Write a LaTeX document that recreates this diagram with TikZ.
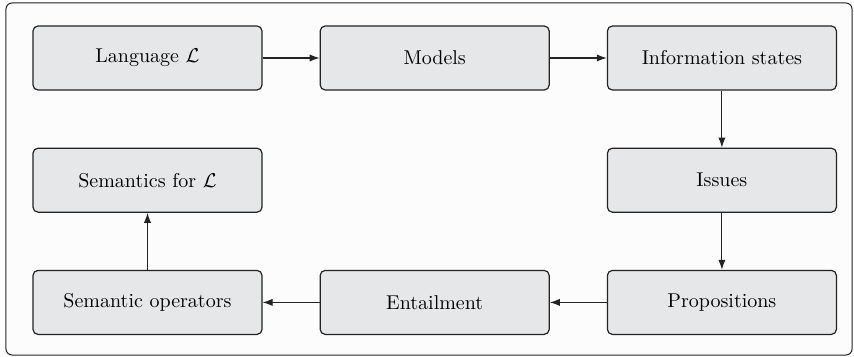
\documentclass[tikz,border=0pt]{standalone}
\usepackage{tikz}
\usetikzlibrary{shapes,arrows.meta,positioning,backgrounds}
\definecolor{boxgray}{RGB}{230,231,232}
\definecolor{framegray}{RGB}{252,252,252}
\definecolor{linegray}{RGB}{35,35,35}

\begin{document}
\begin{tikzpicture}[
    node distance=28.5pt,
    >={Latex[length=5pt,width=3.6pt]},
    block/.style={rectangle, draw=linegray, line width=0.6pt, fill=boxgray, minimum width=114.5pt, minimum height=32pt, rounded corners=2.5pt, text centered},
    link/.style={draw=linegray, ->, line width=0.55pt}
]
\useasboundingbox (-73.75pt,29pt) rectangle (353.25pt,-149.5pt);

% Frame
\draw [linegray, line width=0.5pt, fill=framegray, rounded corners=3pt] (-70.75pt,27.5pt) rectangle (352.25pt,-148.5pt);

% Nodes
\node [block] (language) {Language $\mathcal{L}$};
\node [block, right=of language] (models) {Models};
\node [block, right=of models] (states) {Information states};
\node [block, below=of states] (issues) {Issues};
\node [block, below=of issues] (props) {Propositions};
\node [block, left=of props] (entail) {Entailment};
\node [block, left=of entail] (operators) {Semantic operators};
\node [block, above=of operators] (semantics) {Semantics for $\mathcal{L}$};

% Edges
\path [link] (language) -- (models);
\path [link] (models) -- (states);
\path [link] (states) -- (issues);
\path [link] (issues) -- (props);
\path [link] (props) -- (entail);
\path [link] (entail) -- (operators);
\path [link] (operators) -- (semantics);

\end{tikzpicture}
\end{document}
